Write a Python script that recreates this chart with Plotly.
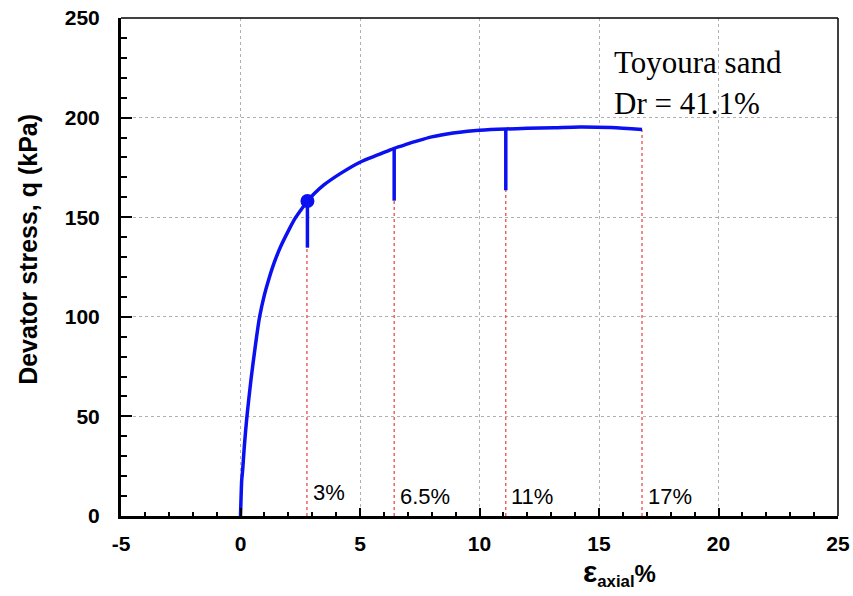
import plotly.graph_objects as go

# Stress-strain curve (axial strain %, deviator stress kPa)
strain = [0, 0.02, 0.05, 0.07, 0.09, 0.16, 0.27, 0.44, 0.62, 0.80, 1.00, 1.20, 1.41, 1.69,
          2.04, 2.29, 2.61, 2.80, 3.10, 3.49, 4.19, 5.0, 5.8, 6.43,
          7.0, 7.4, 8.0, 8.9, 9.5, 10.0, 11.1, 12.0, 13.1, 14.2, 15.5, 16.8]
q = [0, 8, 18, 20.5, 23, 35, 50, 68.6, 85.3, 100, 111, 119.5, 127.2, 135.5,
     144, 149.5, 155, 158.1, 162.0, 166.2, 172.0, 177.6, 181.5, 184.6,
     186.8, 188.3, 190.3, 192.3, 193.2, 193.7, 194.3, 194.6, 194.9, 195.3, 195.0, 194.0]

# Stress drops (strain, stress before drop, stress at bottom of drop)
drop_strain = [2.80, 6.43, 11.1]
drop_top = [158.1, 184.6, 194.3]
drop_bottom = [134.7, 158.3, 163.5]

# Marked point
mark_strain = [2.80]
mark_q = [158.1]

# Reference strain levels
level_strain = [2.78, 6.43, 11.1, 16.8]
level_top = [134.7, 158.3, 163.5, 194.0]
level_labels = ["3%", "6.5%", "11%", "17%"]
label_q = [12, 10, 10, 10]

x_ticks = [-5, 0, 5, 10, 15, 20, 25]
y_ticks = [0, 50, 100, 150, 200, 250]

BLUE = "#0a10f0"
fig = go.Figure()

for xs, top in zip(level_strain, level_top):
    fig.add_trace(go.Scatter(x=[xs, xs], y=[0, top], mode="lines",
                             line=dict(color="rgb(235,60,60)", width=1.2, dash="3px,3px"),
                             showlegend=False, hoverinfo="skip"))

fig.add_trace(go.Scatter(x=strain, y=q, mode="lines",
                         line=dict(color=BLUE, width=3.5, shape="spline", smoothing=0.8),
                         showlegend=False))
for xs, top, bot in zip(drop_strain, drop_top, drop_bottom):
    fig.add_trace(go.Scatter(x=[xs, xs], y=[top, bot], mode="lines",
                             line=dict(color=BLUE, width=3.5),
                             showlegend=False))
fig.add_trace(go.Scatter(x=mark_strain, y=mark_q, mode="markers",
                         marker=dict(color=BLUE, size=14),
                         showlegend=False))

for xs, lab, ly in zip(level_strain, level_labels, label_q):
    fig.add_annotation(x=xs + 0.15, y=ly, text=lab, showarrow=False,
                       xanchor="left", yanchor="middle",
                       font=dict(family="Liberation Sans, Arial", size=22, color="black"))

fig.add_annotation(x=15.55, y=227.5, text="Toyoura sand", showarrow=False,
                   xanchor="left", yanchor="middle",
                   font=dict(family="Liberation Serif, Times New Roman", size=31, color="black"))
fig.add_annotation(x=15.55, y=207, text="Dr = 41.1%", showarrow=False,
                   xanchor="left", yanchor="middle",
                   font=dict(family="Liberation Serif, Times New Roman", size=31, color="black"))

# Axis titles
fig.add_annotation(xref="paper", yref="paper", x=-0.13, y=0.536,
                   text="<b>Devator stress, q (kPa)</b>", textangle=-90, showarrow=False,
                   xanchor="center", yanchor="middle",
                   font=dict(family="Liberation Sans, Arial", size=25, color="black"))
fig.add_annotation(xref="paper", yref="paper", x=0.695, y=-0.115,
                   text='<b><span style="font-size:30px">ε</span><sub>axial</sub>%</b>',
                   showarrow=False, xanchor="center", yanchor="middle",
                   font=dict(family="Liberation Sans, Arial", size=24, color="black"))

# Thin top/right border
fig.add_shape(type="line", xref="paper", yref="paper", x0=0, x1=1, y0=1, y1=1,
              line=dict(color="black", width=1.5))
fig.add_shape(type="line", xref="paper", yref="paper", x0=1, x1=1, y0=0, y1=1,
              line=dict(color="black", width=1.5))

tickfont = dict(family="Liberation Sans, Arial", size=21, color="black")

fig.update_xaxes(range=[-5, 25], tickvals=x_ticks, ticktext=[f"<b>{v}</b>" for v in x_ticks],
                 showline=True, linecolor="black", linewidth=3, mirror=False,
                 ticks="inside", ticklen=8, tickwidth=2, tickcolor="black",
                 minor=dict(dtick=1, tick0=0, ticks="inside", ticklen=4, tickwidth=2,
                            tickcolor="black", showgrid=False),
                 showgrid=True, gridcolor="#b0b0b0", griddash="dot", gridwidth=1,
                 zeroline=False, tickfont=tickfont, ticklabelstandoff=7, automargin=False)
fig.update_yaxes(range=[0, 250], tickvals=y_ticks, ticktext=[f"<b>{v}</b>" for v in y_ticks],
                 showline=True, linecolor="black", linewidth=3, mirror=False,
                 ticks="inside", ticklen=11, tickwidth=2, tickcolor="black",
                 minor=dict(dtick=10, tick0=0, ticks="inside", ticklen=6, tickwidth=2,
                            tickcolor="black", showgrid=False),
                 showgrid=True, gridcolor="#b0b0b0", griddash="dot", gridwidth=1,
                 zeroline=False, tickfont=tickfont, ticklabelstandoff=14, automargin=False)

fig.update_layout(width=853, height=596, margin=dict(l=121, r=15, t=18, b=80),
                  plot_bgcolor="white", paper_bgcolor="white", showlegend=False)

fig.write_html("out.html")
